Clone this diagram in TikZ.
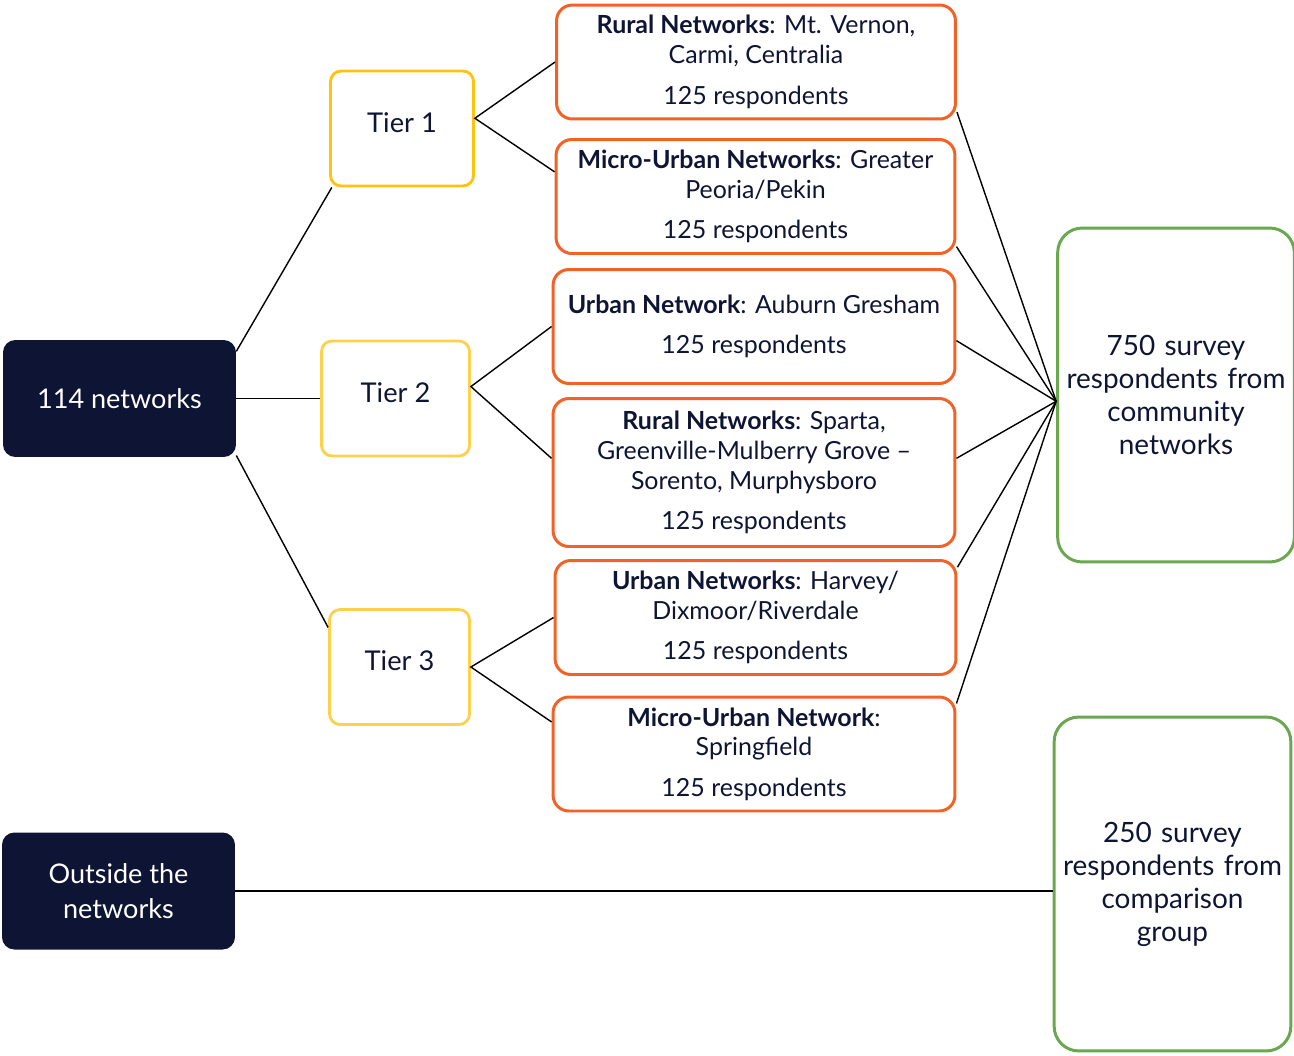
\documentclass[tikz,border=0pt]{standalone}
\usepackage{fontspec}
\setmainfont{Lato}
\definecolor{navy}{HTML}{0E1433}
\definecolor{orng}{HTML}{F26125}
\definecolor{gold}{HTML}{FFC20E}
\definecolor{lgold}{HTML}{FFD049}
\definecolor{grn}{HTML}{6AA84F}
\begin{document}
\begin{tikzpicture}[x=0.02cm,y=-0.02cm,
  dark/.style={rounded corners=7pt,fill=navy,text=white,minimum width=4.66cm,minimum height=2.34cm,align=center,font=\fontsize{15.4}{20}\selectfont},
  tier/.style={rounded corners=6pt,draw,line width=1.6pt,text=navy,minimum height=2.3cm,text depth=0.24cm,font=\fontsize{15.5}{18}\selectfont},
  site/.style={rounded corners=9pt,draw=orng,line width=1.7pt,text=navy,minimum width=7.98cm,minimum height=2.28cm,align=center,font=\fontsize{14.2}{17}\selectfont},
  total/.style={rounded corners=14pt,draw=grn,line width=1.7pt,text=navy,minimum width=4.6cm,minimum height=6.68cm,align=center,text width=4.5cm,font=\fontsize{15.9}{18.8}\selectfont},
  link/.style={line width=0.8pt}]
 \useasboundingbox (0,0) rectangle (1294,1055);
 \node[dark] (n114) at (119.5,398.5) {114 networks};
 \node[dark] (outside) at (118.5,891) {Outside the\\networks};
 \node[tier,draw=gold,minimum width=2.86cm] (tier1) at (402,128.5) {Tier 1};
 \node[tier,draw=lgold,minimum width=2.96cm] (tier2) at (395.5,398.5) {Tier 2};
 \node[tier,draw=lgold,minimum width=2.8cm] (tier3) at (399.5,667) {Tier 3};
 \node[site] (r1) at (756,62) {\textbf{Rural Networks}: Mt. Vernon,\\Carmi, Centralia\\[6pt]125 respondents};
 \node[site] (r2) at (755.5,196.5) {\textbf{Micro-Urban Networks}: Greater\\Peoria/Pekin\\[6pt]125 respondents};
 \node[site,minimum width=8.04cm] (r3) at (754,326.5) {\textbf{Urban Network}: Auburn Gresham\\[6pt]125 respondents};
 \node[site,minimum width=8.04cm,minimum height=2.96cm] (r4) at (754,472.5) {\textbf{Rural Networks}: Sparta,\\Greenville-Mulberry Grove –\\Sorento, Murphysboro\\[6pt]125 respondents};
 \node[site,minimum width=8.02cm] (r5) at (755.5,617.5) {\textbf{Urban Networks}: Harvey/\\Dixmoor/Riverdale\\[6pt]125 respondents};
 \node[site,minimum width=8.04cm] (r6) at (754,754) {\textbf{Micro-Urban Network}:\\Springfield\\[6pt]125 respondents};
 \node[total] (g1) at (1176,395) {750 survey\\respondents from\\community\\networks};
 \node[total] (g2) at (1172.5,884) {250 survey\\respondents from\\comparison\\group};
 \draw[link] (n114.22) -- (tier1.220);
 \draw[link] (n114.east) -- (tier2.west);
 \draw[link] (n114.-26) -- (tier3.151);
 \draw[link] (r1.west) -- (tier1.8) -- (r2.173);
 \draw[link] (r3.west) -- (tier2.9) -- (r4.176);
 \draw[link] (r5.west) -- (tier3.east) -- (r6.171);
 \foreach \r/\a in {r1/-14,r2/-14,r3/-4,r4/4,r5/14,r6/14}
  \draw[link] (\r.\a) -- (g1.183);
 \draw[link] (outside.east) -- (outside.east -| g2.west);
\end{tikzpicture}
\end{document}
